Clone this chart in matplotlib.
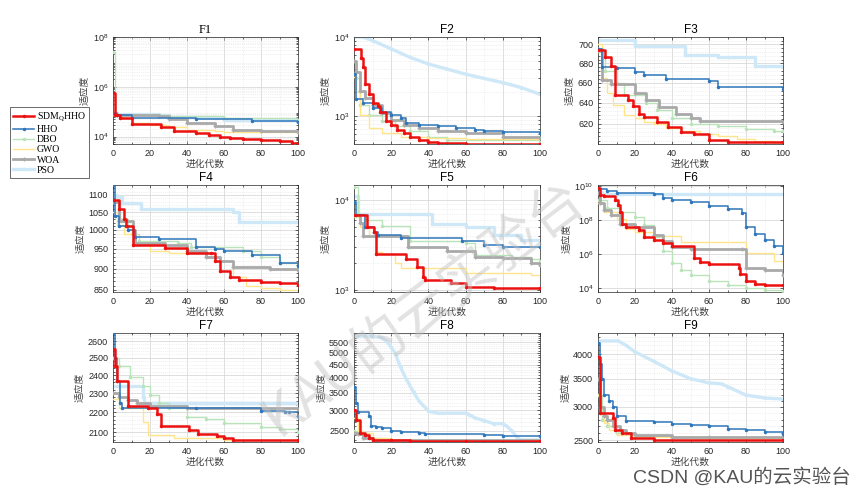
import numpy as np
import matplotlib
matplotlib.use("Agg")
import matplotlib.pyplot as plt
from matplotlib.ticker import FixedLocator, FuncFormatter, NullFormatter, LogLocator, LogFormatterSciNotation

plt.rcParams['font.family'] = ['Liberation Sans', 'Noto Sans CJK SC', 'DejaVu Sans']
plt.rcParams['mathtext.fontset'] = 'custom'
plt.rcParams['mathtext.rm'] = 'Liberation Serif'

names = ["SDM", "HHO", "DBO", "GWO", "WOA", "PSO"]
labels = ["SDM$_{\\mathrm{Q}}$HHO", "HHO", "DBO", "GWO", "WOA", "PSO"]
titles = ["F1", "F2", "F3", "F4", "F5", "F6", "F7", "F8", "F9"]

# convergence curves: (iterations, best fitness) break points of each step curve
F1 = {
    "SDM": ([0, 1, 4, 10, 26, 33, 45, 52, 58, 63, 70, 80, 90, 97, 100],
            [5.7e5, 7.6e4, 5.5e4, 3.2e4, 2.5e4, 1.7e4, 1.36e4, 1.15e4, 1.0e4, 8.5e3, 7.6e3, 7.0e3, 6.4e3, 5.6e3, 5.2e3]),
    "HHO": ([0, 2, 10, 45, 75, 100], [8.5e4, 7.5e4, 5.5e4, 5.0e4, 4.2e4, 4.0e4]),
    "DBO": ([0, 1, 2, 30, 60, 100], [2.5e7, 8e4, 7e4, 6.5e4, 5.5e4, 4.8e4]),
    "GWO": ([0, 2, 5, 10, 20, 30, 40, 55, 60, 100], [8e4, 6.5e4, 5.5e4, 3.5e4, 3.0e4, 2.4e4, 1.8e4, 1.7e4, 1.45e4, 1.4e4]),
    "WOA": ([0, 2, 25, 30, 40, 55, 65, 80, 100], [8e4, 7e4, 6.5e4, 5e4, 3.5e4, 2.6e4, 1.9e4, 1.6e4, 1.5e4]),
    "PSO": ([0, 2, 25, 30, 55, 60, 100], [9e4, 8e4, 7.5e4, 6e4, 5.5e4, 4.8e4, 4.5e4]),
}
F2 = {
    "SDM": ([0, 4, 5, 6, 8, 10, 13, 14, 17, 20, 23, 27, 30, 35, 40, 45, 60, 100],
            [7100, 5500, 4150, 2540, 1900, 1480, 1340, 1140, 860, 780, 675, 610, 555, 500, 470, 460, 450, 445]),
    "HHO": ([0, 1, 5, 10, 15, 20, 25, 28, 35, 45, 55, 65, 70, 80, 100],
            [3400, 1630, 1480, 1280, 1140, 1050, 950, 820, 770, 745, 710, 680, 645, 630, 610]),
    "DBO": ([0, 1, 3, 8, 15, 22, 30, 40, 50, 100], [3400, 3000, 1400, 1050, 860, 760, 650, 555, 500, 480]),
    "GWO": ([0, 1, 3, 8, 15, 25, 40, 60, 100], [3100, 2000, 1050, 710, 610, 555, 530, 510, 495]),
    "WOA": ([0, 1, 3, 6, 10, 15, 20, 27, 35, 45, 60, 80, 100],
            [5000, 3600, 2080, 1700, 1400, 1100, 900, 780, 720, 655, 610, 555, 530]),
    "PSO": ([0, 5, 10, 20, 30, 40, 50, 60, 70, 80, 90, 100],
            [1e4, 1e4, 9000, 7100, 5550, 4570, 3940, 3400, 3000, 2660, 2300, 1890]),
}
F3 = {
    "SDM": ([0, 4, 7, 9, 16, 19, 22, 25, 32, 38, 45, 52, 60, 70, 100],
            [694, 687, 677, 648, 643, 637, 629, 626, 622, 617, 612, 610, 605, 603, 603]),
    "HHO": ([0, 2, 10, 20, 25, 37, 60, 65, 100], [695, 676, 675, 671, 668, 664, 662, 656, 654]),
    "DBO": ([0, 4, 10, 14, 26, 32, 40, 50, 65, 80, 95, 100], [693, 672, 660, 648, 640, 633, 625, 620, 618, 615, 613, 613]),
    "GWO": ([0, 2, 5, 8, 14, 20, 25, 30, 37, 45, 55, 65, 75, 85, 95, 100],
            [700, 665, 650, 638, 628, 625, 622, 620, 616, 613, 610, 608, 606, 604, 602, 601]),
    "WOA": ([0, 2, 7, 20, 26, 33, 42, 50, 55, 100], [695, 663, 659, 650, 643, 636, 629, 625, 623, 622]),
    "PSO": ([0, 20, 47, 65, 85, 100], [705, 698, 689, 687, 677, 676]),
}
F4 = {
    "SDM": ([0, 3, 6, 7, 11, 28, 40, 53, 55, 58, 63, 68, 80, 90, 100],
            [1085, 1060, 1030, 1010, 960, 952, 940, 940, 920, 895, 880, 872, 868, 865, 862]),
    "HHO": ([0, 1, 3, 8, 12, 25, 45, 55, 60, 75, 90, 100], [1130, 1040, 1010, 1000, 980, 975, 955, 950, 945, 935, 915, 906]),
    "DBO": ([0, 4, 8, 10, 14, 35, 42, 70, 80, 90, 100], [1085, 1030, 1010, 990, 970, 965, 955, 945, 930, 915, 900]),
    "GWO": ([0, 2, 6, 12, 20, 30, 50, 55, 65, 72, 80, 90, 100],
            [1050, 1015, 990, 960, 945, 940, 930, 920, 880, 860, 855, 850, 845]),
    "WOA": ([0, 3, 11, 12, 28, 40, 50, 58, 65, 85, 100], [1080, 1025, 1000, 965, 960, 945, 930, 920, 905, 900, 897]),
    "PSO": ([0, 2, 5, 15, 62, 65, 68, 100], [1100, 1095, 1075, 1060, 1058, 1050, 1022, 1022]),
}
F5 = {
    "SDM": ([0, 7, 11, 12, 28, 34, 37, 38, 52, 60, 75, 100],
            [6850, 5030, 4400, 2510, 2200, 1800, 1400, 1285, 1200, 1060, 1050, 1050]),
    "HHO": ([0, 1, 6, 11, 13, 25, 58, 70, 80, 100], [9500, 6800, 5000, 4330, 4050, 3760, 3500, 3180, 3020, 3020]),
    "DBO": ([0, 2, 6, 15, 30, 60, 65, 85, 95, 100], [14000, 7000, 6000, 5120, 3510, 3300, 2410, 2300, 2200, 2090]),
    "GWO": ([0, 3, 8, 12, 15, 22, 25, 60, 95, 100], [6500, 5000, 4000, 2600, 2500, 2000, 1750, 1520, 1450, 1310]),
    "WOA": ([0, 3, 5, 29, 50, 65, 80, 95, 100], [6800, 5500, 3980, 3020, 2700, 2300, 2250, 2000, 1870]),
    "PSO": ([0, 2, 42, 60, 75, 90, 100], [11000, 6950, 5330, 5000, 4050, 3600, 3510]),
}
F6 = {
    "SDM": ([0, 1, 3, 9, 11, 12, 13, 15, 22, 25, 30, 35, 40, 52, 55, 60, 76, 77, 80, 85, 90, 100],
            [8e9, 3e9, 2.5e9, 1.5e9, 8e8, 3e8, 6e7, 4e7, 2.5e7, 1e7, 7e6, 4.5e6, 3e6, 6e5, 3.5e5, 2.8e5,
             1.5e5, 7e4, 2.5e4, 1.8e4, 1.6e4, 1.5e4]),
    "HHO": ([0, 5, 10, 30, 35, 40, 50, 60, 70, 78, 80, 85, 90, 95, 100],
            [6.5e9, 5e9, 4e9, 3.5e9, 2e9, 1.5e9, 1.2e9, 7e8, 4.5e8, 2.5e8, 3.7e7, 1.5e7, 7e6, 3e6, 1.2e6]),
    "DBO": ([0, 5, 12, 20, 25, 30, 35, 40, 45, 50, 60, 70, 80, 90, 100],
            [1.5e9, 5e8, 3e8, 1.5e8, 5e7, 1e7, 1.5e6, 3e5, 1.2e5, 6e4, 2.5e4, 1.5e4, 1e4, 8e3, 7e3]),
    "GWO": ([0, 3, 10, 15, 20, 30, 45, 75, 80, 90, 95, 100],
            [1e9, 3e8, 1.2e8, 3e7, 2e7, 1.2e7, 5e6, 5e6, 1.2e6, 1.2e6, 4e5, 2e5]),
    "WOA": ([0, 1, 3, 7, 12, 20, 30, 35, 40, 50, 78, 80, 90, 100],
            [4e9, 1e9, 4e8, 2e8, 6e7, 4e7, 1.3e7, 6e6, 2.5e6, 2e6, 2e6, 1.5e5, 1.2e5, 6e4]),
    "PSO": ([0, 2, 100], [4.5e9, 3.6e9, 3.6e9]),
}
F7 = {
    "SDM": ([0, 1, 2, 8, 19, 24, 26, 41, 46, 56, 60, 65, 100],
            [2550, 2450, 2365, 2235, 2225, 2190, 2130, 2110, 2090, 2080, 2070, 2062, 2062]),
    "HHO": ([0, 1, 2, 4, 5, 45, 80, 93, 95, 100], [2650, 2500, 2370, 2250, 2225, 2220, 2205, 2200, 2200, 2180]),
    "DBO": ([0, 3, 9, 16, 20, 25, 30, 40, 50, 60, 80, 90, 100],
            [2500, 2450, 2390, 2340, 2290, 2250, 2220, 2175, 2165, 2145, 2125, 2115, 2100]),
    "GWO": ([0, 3, 16, 19, 33, 60, 100], [2270, 2220, 2150, 2085, 2070, 2060, 2058]),
    "WOA": ([0, 3, 8, 13, 20, 40, 100], [2300, 2280, 2265, 2250, 2235, 2220, 2215]),
    "PSO": ([0, 5, 16, 17, 100], [2340, 2340, 2280, 2250, 2245]),
}
F8 = {
    "SDM": ([0, 1, 3, 6, 8, 10, 20, 30, 60, 100], [3000, 2750, 2450, 2400, 2330, 2300, 2290, 2285, 2280, 2280]),
    "HHO": ([0, 1, 2, 8, 9, 12, 15, 20, 25, 35, 38, 70, 80, 100],
            [3700, 3200, 2950, 2850, 2600, 2580, 2550, 2500, 2470, 2450, 2420, 2400, 2380, 2380]),
    "DBO": ([0, 3, 8, 15, 30, 100], [2500, 2450, 2350, 2300, 2290, 2275]),
    "GWO": ([0, 2, 5, 10, 20, 100], [2800, 2500, 2450, 2330, 2300, 2285]),
    "WOA": ([0, 2, 5, 10, 20, 100], [2450, 2420, 2350, 2300, 2290, 2270]),
    "PSO": ([0, 10, 15, 18, 20, 22, 25, 28, 32, 35, 38, 40, 45, 60, 62, 65, 70, 75, 80, 82, 85, 88, 90, 100],
            [5800, 5800, 5700, 5500, 5240, 5000, 4400, 3970, 3520, 3250, 3080, 2970, 2920, 2920, 2880, 2800,
             2730, 2660, 2660, 2600, 2490, 2330, 2300, 2300]),
}
F9 = {
    "SDM": ([0, 1, 8, 9, 13, 18, 30, 100], [3930, 2900, 2820, 2650, 2600, 2530, 2500, 2500]),
    "HHO": ([0, 1, 2, 3, 6, 8, 10, 15, 30, 40, 50, 60, 70, 80, 90, 100],
            [4250, 3800, 3500, 3200, 3100, 3000, 2850, 2780, 2770, 2740, 2720, 2700, 2660, 2640, 2620, 2590]),
    "DBO": ([0, 2, 5, 10, 20, 40, 100], [3200, 2800, 2700, 2600, 2560, 2530, 2520]),
    "GWO": ([0, 1, 3, 6, 10, 20, 50, 100], [3200, 2900, 2750, 2650, 2580, 2550, 2530, 2525]),
    "WOA": ([0, 1, 3, 5, 8, 12, 15, 20, 40, 60, 100], [3500, 3000, 2850, 2800, 2700, 2650, 2600, 2580, 2550, 2540, 2535]),
    "PSO": ([0, 11, 15, 20, 30, 40, 50, 60, 67, 70, 80, 90, 100],
            [4300, 4300, 4200, 4050, 3850, 3650, 3500, 3420, 3400, 3350, 3200, 3150, 3130]),
}
panels = [F1, F2, F3, F4, F5, F6, F7, F8, F9]

ylims = [(5e3, 1e8), (447, 1e4), (601, 708), (845, 1130), (944, 14600),
         (6e3, 1.15e10), (2052, 2650), (2258, 5960), (2477, 4490)]
yticks = [[1e4, 1e6, 1e8], [1e3, 1e4], [620, 640, 660, 680, 700], [850, 900, 950, 1000, 1050, 1100],
          [1e3, 1e4], [1e4, 1e6, 1e8, 1e10], [2100, 2200, 2300, 2400, 2500, 2600],
          [2500, 3000, 3500, 4000, 4500, 5000, 5500], [2500, 3000, 3500, 4000]]
power_ticks = [True, True, False, False, True, True, False, False, False]

colors = {"SDM": "#ec1111", "HHO": "#2f76bb", "DBO": "#b9e3b9", "GWO": "#ffe48c",
          "WOA": "#a9a9a9", "PSO": "#cfe8f7"}
widths = {"SDM": 1.8, "HHO": 1.1, "DBO": 1.0, "GWO": 1.0, "WOA": 2.0, "PSO": 2.4}
marks = {"SDM": ".", "HHO": ".", "DBO": ".", "GWO": "", "WOA": "+", "PSO": "."}
zorders = {"SDM": 8, "HHO": 6, "DBO": 3, "GWO": 4, "WOA": 5, "PSO": 2}

fig = plt.figure(figsize=(8.65, 4.96), dpi=100)
W, H = 865.0, 496.0
lefts = [113, 354, 598]
rights = [298, 540, 783]
tops = [37, 185, 333]
bottoms = [144, 292, 442]

axes = []
for i, data in enumerate(panels):
    r, c = divmod(i, 3)
    ax = fig.add_axes([lefts[c] / W, 1 - bottoms[r] / H, (rights[c] - lefts[c]) / W, (bottoms[r] - tops[r]) / H])
    axes.append(ax)
    for n, lab in zip(names, labels):
        xs, ys = data[n]
        smooth = n == "PSO" and titles[i] in ("F2", "F8", "F9")
        ax.plot(xs, ys, color=colors[n], lw=widths[n], marker=marks[n] or None, ms=3,
                drawstyle="default" if smooth else "steps-post", zorder=zorders[n], label=lab)
    ax.set_yscale("log")
    ax.set_xlim(0, 100)
    ax.set_ylim(*ylims[i])
    ax.set_xticks([0, 20, 40, 60, 80, 100])
    ax.xaxis.set_minor_locator(FixedLocator(np.arange(10, 100, 20)))
    ax.yaxis.set_major_locator(FixedLocator(yticks[i]))
    if power_ticks[i]:
        ax.yaxis.set_major_formatter(LogFormatterSciNotation())
        ax.yaxis.set_minor_locator(LogLocator(base=10, subs=np.arange(2, 10)))
    else:
        ax.yaxis.set_major_formatter(FuncFormatter(lambda v, p: "%d" % round(v)))
        step = yticks[i][1] - yticks[i][0]
        ax.yaxis.set_minor_locator(FixedLocator(np.arange(yticks[i][0] - step, yticks[i][-1] + step, step / 5)))
    ax.yaxis.set_minor_formatter(NullFormatter())
    ax.grid(True, which="major", color="#d9d9d9", lw=0.6)
    ax.grid(True, which="minor", color="#e3e3e3", lw=0.5, ls=":")
    ax.set_axisbelow(True)
    ax.tick_params(which="both", direction="in", top=True, right=True, labelsize=6.5,
                   colors="#262626", length=2.5, width=0.5)
    ax.tick_params(which="minor", length=1.5)
    for s in ax.spines.values():
        s.set_linewidth(0.5)
        s.set_color("#262626")
    ax.set_xlabel("进化代数", fontsize=7, color="#404040", labelpad=1, family=["Noto Sans CJK SC"])
    ax.set_ylabel("适应度", fontsize=7, color="#404040", labelpad=2, family=["Noto Sans CJK SC"])
    if i == 0:
        ax.set_title(titles[i], fontsize=9, pad=3, family=["Liberation Serif"])
    else:
        ax.set_title(titles[i], fontsize=8.5, pad=3)

h, l = axes[0].get_legend_handles_labels()
leg = fig.legend(h, l, loc="upper left", bbox_to_anchor=(0.0116, 0.784), prop={"family": "Liberation Serif", "size": 7},
                 frameon=True, fancybox=False, edgecolor="#262626", labelspacing=0.12, borderpad=0.35,
                 handlelength=2.1, handletextpad=0.3, borderaxespad=0)
leg.get_frame().set_linewidth(0.6)

fig.text(0.49, 0.38, "KAU的云实验台", fontsize=40, rotation=37, color="#bfbfbf", alpha=0.45,
         ha="center", va="center", family=["Noto Sans CJK SC"], zorder=20)
fig.text(0.983, 0.038, "CSDN @KAU的云实验台", fontsize=14, color="#555555", ha="right", va="center",
         family=["Liberation Sans", "Noto Sans CJK SC"])

fig.savefig("out.png", dpi=100)
